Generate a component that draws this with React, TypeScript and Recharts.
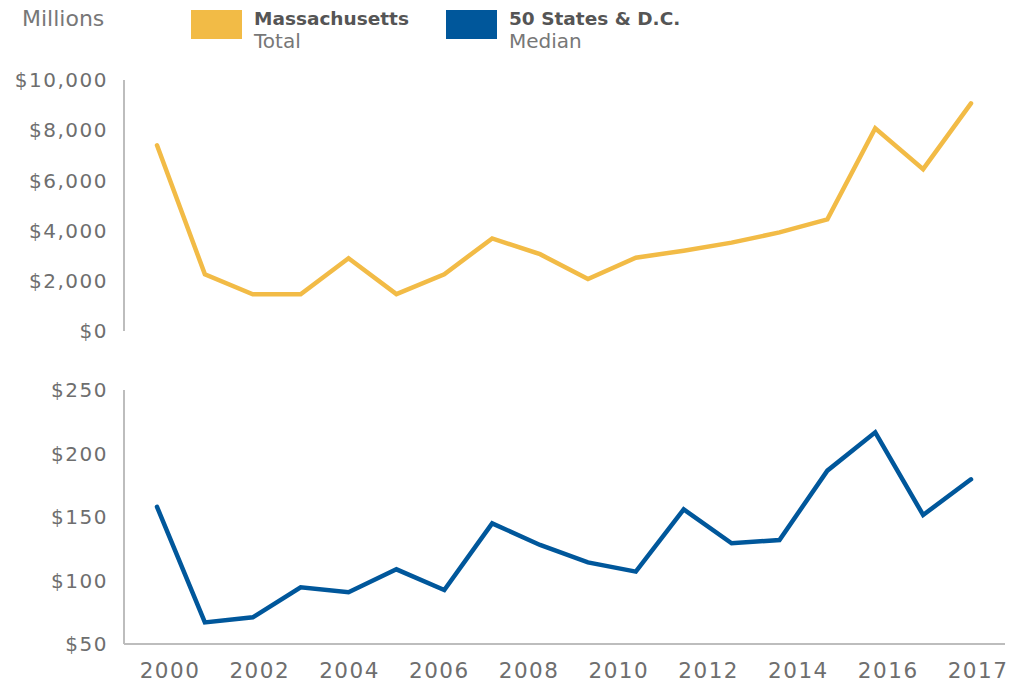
import { LineChart, Line, XAxis, YAxis } from 'recharts';

const years = [2000, 2001, 2002, 2003, 2004, 2005, 2006, 2007, 2008, 2009, 2010, 2011, 2012, 2013, 2014, 2015, 2016, 2017];
// Massachusetts total, $ millions
const massTotal = [7400, 2260, 1460, 1460, 2900, 1470, 2260, 3690, 3060, 2070, 2920, 3200, 3520, 3930, 4450, 8080, 6450, 9070];
// 50 states & D.C. median, $ millions
const statesMedian = [158, 67, 71, 94.6, 90.7, 108.8, 92.5, 145, 128, 114.3, 107, 156, 129.3, 131.9, 186.5, 216.7, 151.6, 179.7];

const yearLabels = ['2000', '2002', '2004', '2006', '2008', '2010', '2012', '2014', '2016', '2017'];
const topTicks = [0, 2000, 4000, 6000, 8000, 10000];
const bottomTicks = [50, 100, 150, 200, 250];

const data = years.map((year, i) => ({ year, total: massTotal[i], median: statesMedian[i] }));

// the year labels are spread evenly under the plot, not lined up with the points
const first = years[0];
const span = years[years.length - 1] - first;
const step = span / (yearLabels.length - 1);
const labelTicks = yearLabels.map((_, i) => first + i * step);
const labelFor = (v: number) => yearLabels[Math.round((v - first) / step)];

const YELLOW = '#F2BB46';
const BLUE = '#00579B';
const AXIS = '#bdbdbd';
const TEXT = '#6e6e6e';
const FONT = '"DejaVu Sans", sans-serif';

const money = (v: number) => '$' + v.toLocaleString('en-US');

const tickStyle = { fill: TEXT, fontSize: 20, fontFamily: FONT, letterSpacing: 1.5 };

function LegendItem({ left, color, title, sub }: { left: number; color: string; title: string; sub: string }) {
  return (
    <>
      <div style={{ position: 'absolute', left, top: 10, width: 51, height: 29, background: color }} />
      <div
        style={{
          position: 'absolute',
          left: left + 63,
          top: 7,
          fontSize: 18.5,
          fontWeight: 'bold',
          color: '#555',
          lineHeight: '24px',
          whiteSpace: 'nowrap',
        }}
      >
        {title}
      </div>
      <div
        style={{
          position: 'absolute',
          left: left + 63,
          top: 29,
          fontSize: 20,
          color: '#777',
          lineHeight: '24px',
          whiteSpace: 'nowrap',
        }}
      >
        {sub}
      </div>
    </>
  );
}

export default function App() {
  return (
    <div
      style={{
        position: 'absolute',
        left: 0,
        top: 0,
        width: 1027,
        height: 684,
        background: '#fff',
        fontFamily: FONT,
        overflow: 'hidden',
      }}
    >
      <div
        style={{
          position: 'absolute',
          left: 22,
          top: 5,
          fontSize: 22,
          color: '#777',
          lineHeight: '28px',
        }}
      >
        Millions
      </div>
      <LegendItem left={191} color={YELLOW} title="Massachusetts" sub="Total" />
      <LegendItem left={446} color={BLUE} title="50 States & D.C." sub="Median" />

      <div style={{ position: 'absolute', left: 0, top: 0 }}>
        <LineChart width={1027} height={345} data={data} margin={{ top: 80, right: 22, bottom: 14, left: 0 }}>
          <XAxis dataKey="year" type="number" domain={[2000, 2017]} hide padding={{ left: 33, right: 34 }} />
          <YAxis
            width={124}
            domain={[0, 10000]}
            ticks={topTicks}
            tickFormatter={money}
            tick={tickStyle}
            tickLine={false}
            tickSize={6}
            tickMargin={10}
            axisLine={{ stroke: AXIS, strokeWidth: 2 }}
          />
          <Line
            dataKey="total"
            stroke={YELLOW}
            strokeWidth={4.5}
            strokeLinecap="round"
            dot={false}
            isAnimationActive={false}
          />
        </LineChart>
      </div>

      <div style={{ position: 'absolute', left: 0, top: 345 }}>
        <LineChart width={1027} height={339} data={data} margin={{ top: 45, right: 22, bottom: 0, left: 0 }}>
          <XAxis
            xAxisId="years"
            dataKey="year"
            type="number"
            domain={[2000, 2017]}
            hide
            padding={{ left: 33, right: 34 }}
          />
          <XAxis
            xAxisId="labels"
            dataKey="year"
            type="number"
            domain={[2000, 2017]}
            ticks={labelTicks}
            tickFormatter={labelFor}
            interval={0}
            padding={{ left: 46, right: 27 }}
            height={40}
            tick={{ ...tickStyle, fontSize: 21.5 }}
            tickLine={false}
            tickSize={6}
            tickMargin={13}
            axisLine={{ stroke: AXIS, strokeWidth: 2 }}
          />
          <YAxis
            width={124}
            domain={[50, 250]}
            ticks={bottomTicks}
            tickFormatter={money}
            tick={tickStyle}
            tickLine={false}
            tickSize={6}
            tickMargin={10}
            axisLine={{ stroke: AXIS, strokeWidth: 2 }}
          />
          <Line
            xAxisId="years"
            dataKey="median"
            stroke={BLUE}
            strokeWidth={4.5}
            strokeLinecap="round"
            dot={false}
            isAnimationActive={false}
          />
        </LineChart>
      </div>
    </div>
  );
}
